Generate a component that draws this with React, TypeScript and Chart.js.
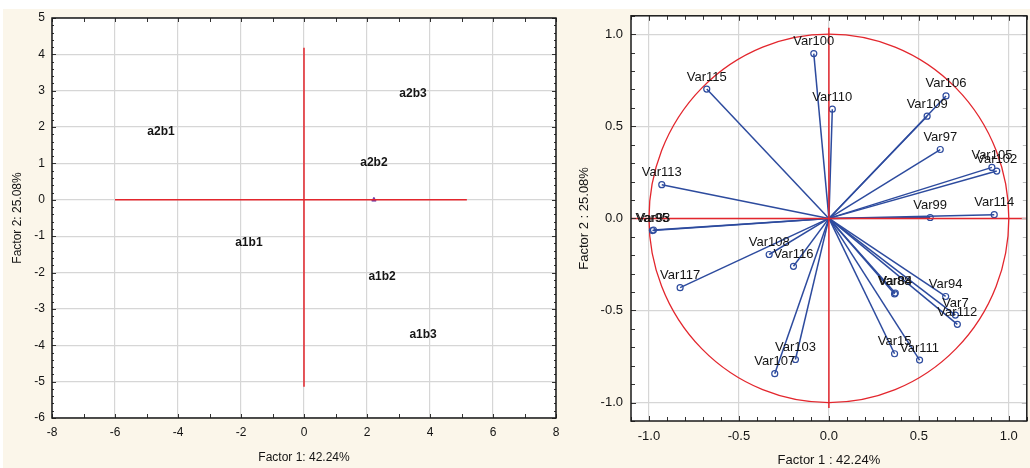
import React, { useEffect, useRef } from 'react';
import { Chart, registerables } from 'chart.js';

Chart.register(...registerables);

// ---------- Left panel data (case coordinates) ----------
const caseLabels = ['a2b1', 'a2b3', 'a2b2', 'a1b1', 'a1b2', 'a1b3'];
const caseX = [-4.54, 3.46, 2.22, -1.75, 2.48, 3.78];
const caseY = [1.87, 2.91, 1.02, -1.18, -2.12, -3.71];
const leftXTicks = [-8, -6, -4, -2, 0, 2, 4, 6, 8];
const leftYTicks = [-6, -5, -4, -3, -2, -1, 0, 1, 2, 3, 4, 5];
const leftRedH = [-6, 5.17];
const leftRedV = [4.18, -5.14];
const leftMarker = [2.22, 0];

// ---------- Right panel data (variable loadings) ----------
const varNames = ['Var100', 'Var110', 'Var106', 'Var109', 'Var97', 'Var105', 'Var102', 'Var99', 'Var114', 'Var115', 'Var113', 'Var95', 'Var93', 'Var108', 'Var116', 'Var117', 'Var103', 'Var107', 'Var88', 'Var84', 'Var94', 'Var7', 'Var112', 'Var15', 'Var111'];
const varX = [-0.084, 0.019, 0.651, 0.546, 0.619, 0.906, 0.933, 0.563, 0.919, -0.679, -0.929, -0.981, -0.975, -0.332, -0.197, -0.827, -0.186, -0.301, 0.365, 0.369, 0.649, 0.703, 0.714, 0.365, 0.504];
const varY = [0.895, 0.593, 0.665, 0.555, 0.374, 0.277, 0.257, 0.005, 0.02, 0.702, 0.183, -0.066, -0.063, -0.196, -0.26, -0.376, -0.766, -0.843, -0.41, -0.405, -0.424, -0.525, -0.575, -0.735, -0.769];
const rightTicks = [-1, -0.5, 0, 0.5, 1];
const rightRedH = [-1.1, 1.1];
const rightRedV = [1.035, -1.03];
const circleRadius = 1;

const FONT = "'Liberation Sans', Arial, Helvetica, sans-serif";
const RED = '#e3262d';
const BLUE = '#2d4b9e';
const GRID = '#d6d6d6';
const TXT = '#141414';
const CREAM = '#fbf6ea';

const whiteArea = {
  id: 'whiteArea',
  beforeDraw(chart: any) {
    const { ctx, chartArea: a } = chart;
    ctx.save();
    ctx.fillStyle = '#ffffff';
    ctx.fillRect(a.left, a.top, a.right - a.left, a.bottom - a.top);
    ctx.restore();
  },
};

function frameTicks(cfg: any) {
  return {
    id: 'frameTicks',
    afterDatasetsDraw(chart: any) {
      const { ctx, chartArea: a, scales } = chart;
      const sx = scales.x, sy = scales.y;
      ctx.save();
      ctx.lineWidth = 1;
      ctx.strokeStyle = '#333';
      ctx.beginPath();
      const nx = Math.round((cfg.xMax - cfg.xMin) / cfg.xStep);
      for (let i = 0; i <= nx; i++) {
        const v = cfg.xMin + i * cfg.xStep;
        const px = Math.round(sx.getPixelForValue(v)) + 0.5;
        const major = Math.abs(v / cfg.xMajor - Math.round(v / cfg.xMajor)) < 1e-6;
        const len = major ? cfg.majorLen : cfg.minorLen;
        ctx.moveTo(px, a.top); ctx.lineTo(px, a.top + len);
        ctx.moveTo(px, a.bottom); ctx.lineTo(px, a.bottom - len);
      }
      const ny = Math.round((cfg.yMax - cfg.yMin) / cfg.yStep);
      for (let i = 0; i <= ny; i++) {
        const v = cfg.yMin + i * cfg.yStep;
        const py = Math.round(sy.getPixelForValue(v)) + 0.5;
        const major = Math.abs(v / cfg.yMajor - Math.round(v / cfg.yMajor)) < 1e-6;
        const len = major ? cfg.majorLen : cfg.minorLen;
        ctx.moveTo(a.left, py); ctx.lineTo(a.left + len, py);
      }
      ctx.stroke();
      ctx.strokeStyle = cfg.rightColor || '#333';
      ctx.beginPath();
      for (let i = 0; i <= ny; i++) {
        const v = cfg.yMin + i * cfg.yStep;
        const py = Math.round(sy.getPixelForValue(v)) + 0.5;
        const major = Math.abs(v / cfg.yMajor - Math.round(v / cfg.yMajor)) < 1e-6;
        const len = major ? cfg.majorLen : cfg.minorLen;
        ctx.moveTo(a.right, py); ctx.lineTo(a.right - len, py);
      }
      ctx.stroke();
      ctx.strokeStyle = '#1a1a1a';
      ctx.lineWidth = 1.5;
      ctx.strokeRect(a.left, a.top, a.right - a.left, a.bottom - a.top);
      ctx.restore();
    },
  };
}

function pointLabels(cfg: any) {
  return {
    id: 'pointLabels',
    afterDatasetsDraw(chart: any) {
      const { ctx } = chart;
      ctx.save();
      ctx.font = cfg.font;
      ctx.fillStyle = TXT;
      ctx.textAlign = 'center';
      ctx.textBaseline = 'middle';
      cfg.items.forEach((it: any) => {
        const el = chart.getDatasetMeta(it.ds).data[it.idx];
        if (el) ctx.fillText(it.text, el.x, el.y + cfg.dy);
      });
      ctx.restore();
    },
  };
}

const circlePlugin = {
  id: 'circle',
  beforeDatasetsDraw(chart: any) {
    const { ctx, scales } = chart;
    const cx = scales.x.getPixelForValue(0);
    const cy = scales.y.getPixelForValue(0);
    const rx = scales.x.getPixelForValue(circleRadius) - cx;
    const ry = cy - scales.y.getPixelForValue(circleRadius);
    ctx.save();
    ctx.strokeStyle = RED;
    ctx.lineWidth = 1.3;
    ctx.beginPath();
    ctx.ellipse(cx, cy, rx, ry, 0, 0, Math.PI * 2);
    ctx.stroke();
    ctx.restore();
  },
};

function axis(opts: any) {
  return {
    type: 'linear',
    min: opts.min,
    max: opts.max,
    afterBuildTicks: (s: any) => { s.ticks = opts.ticks.map((v: number) => ({ value: v })); },
    afterFit: (s: any) => { if (opts.width !== undefined) s.width = opts.width; if (opts.height !== undefined) s.height = opts.height; },
    grid: { color: GRID, lineWidth: 1.2, drawTicks: false },
    border: { display: false },
    ticks: {
      padding: opts.tickPad,
      color: TXT,
      font: { family: FONT, size: opts.fontSize },
      callback: opts.fmt,
    },
    title: {
      display: true,
      text: opts.title,
      color: TXT,
      font: { family: FONT, size: opts.fontSize },
      padding: opts.titlePad,
    },
  };
}

export default function App() {
  const leftRef = useRef<HTMLCanvasElement>(null);
  const rightRef = useRef<HTMLCanvasElement>(null);

  useEffect(() => {
    const left = new Chart(leftRef.current as any, {
      type: 'scatter',
      data: {
        datasets: [
          { data: [{ x: leftRedH[0], y: 0 }, { x: leftRedH[1], y: 0 }], showLine: true, borderColor: RED, borderWidth: 1.5, pointRadius: 0 },
          { data: [{ x: 0, y: leftRedV[0] }, { x: 0, y: leftRedV[1] }], showLine: true, borderColor: RED, borderWidth: 1.5, pointRadius: 0 },
          { data: caseX.map((x, i) => ({ x, y: caseY[i] })), pointRadius: 0 },
          { data: [{ x: leftMarker[0], y: leftMarker[1] }], pointStyle: 'triangle', pointRadius: 2.5, backgroundColor: '#6a3aa8', borderColor: '#6a3aa8' },
        ],
      } as any,
      options: {
        responsive: false,
        animation: false,
        layout: { padding: { left: 0, top: 18, right: 12, bottom: 0 } },
        plugins: { legend: { display: false }, tooltip: { enabled: false } },
        scales: {
          x: axis({ min: -8, max: 8, ticks: leftXTicks, height: 50, tickPad: 7, fontSize: 12, fmt: (v: any) => String(v), title: 'Factor 1: 42.24%', titlePad: { top: 0, bottom: 2.8 } }),
          y: axis({ min: -6, max: 5, ticks: leftYTicks, width: 52, tickPad: 7, fontSize: 12, fmt: (v: any) => String(v), title: 'Factor 2: 25.08%', titlePad: { top: 10.8, bottom: 0 } }),
        },
      } as any,
      plugins: [
        whiteArea,
        frameTicks({ xMin: -8, xMax: 8, xStep: 1, xMajor: 1, yMin: -6, yMax: 5, yStep: 0.2, yMajor: 1, majorLen: 4, minorLen: 2 }),
        pointLabels({ font: `bold 12px ${FONT}`, dy: 0, items: caseLabels.map((t, i) => ({ ds: 2, idx: i, text: t })) }),
      ],
    });

    const right = new Chart(rightRef.current as any, {
      type: 'scatter',
      data: {
        datasets: [
          { data: [{ x: rightRedH[0], y: 0 }, { x: rightRedH[1], y: 0 }], showLine: true, borderColor: RED, borderWidth: 1.5, pointRadius: 0 },
          { data: [{ x: 0, y: rightRedV[0] }, { x: 0, y: rightRedV[1] }], showLine: true, borderColor: RED, borderWidth: 1.5, pointRadius: 0 },
          ...varNames.map((n, i) => ({
            label: n,
            data: [{ x: 0, y: 0 }, { x: varX[i], y: varY[i] }],
            showLine: true,
            borderColor: BLUE,
            borderWidth: 1.5,
            pointRadius: [0, 3],
            pointBorderColor: BLUE,
            pointBackgroundColor: 'rgba(0,0,0,0)',
            pointBorderWidth: 1.2,
          })),
        ],
      } as any,
      options: {
        responsive: false,
        animation: false,
        layout: { padding: { left: 0, top: 13, right: 0, bottom: 0 } },
        plugins: { legend: { display: false }, tooltip: { enabled: false } },
        scales: {
          x: axis({ min: -1.1, max: 1.1, ticks: rightTicks, height: 47, tickPad: 8, fontSize: 13, fmt: (v: any) => Number(v).toFixed(1), title: 'Factor 1 : 42.24%', titlePad: { top: 0, bottom: 0.2 } }),
          y: axis({ min: -1.1, max: 1.1, ticks: rightTicks, width: 63, tickPad: 8, fontSize: 13, fmt: (v: any) => Number(v).toFixed(1), title: 'Factor 2 : 25.08%', titlePad: { top: 8.2, bottom: 0 } }),
        },
      } as any,
      plugins: [
        whiteArea,
        circlePlugin,
        frameTicks({ xMin: -1.1, xMax: 1.1, xStep: 0.1, xMajor: 0.5, yMin: -1.1, yMax: 1.1, yStep: 0.1, yMajor: 0.5, majorLen: 5, minorLen: 4, rightColor: '#bdbdbd' }),
        pointLabels({ font: `13px ${FONT}`, dy: -12, items: varNames.map((t, i) => ({ ds: i + 2, idx: 1, text: t })) }),
      ],
    });

    return () => { left.destroy(); right.destroy(); };
  }, []);

  return (
    <div style={{ position: 'fixed', left: 0, top: 0, width: 1030, height: 468, overflow: 'hidden', background: '#ffffff' }}>
      <div style={{ position: 'absolute', left: 3, top: 9, right: 0, bottom: 0, background: CREAM }} />
      <canvas ref={leftRef} width={568} height={468} style={{ position: 'absolute', left: 0, top: 0, width: 568, height: 468 }} />
      <canvas ref={rightRef} width={464} height={468} style={{ position: 'absolute', left: 568, top: 0, width: 464, height: 468 }} />
    </div>
  );
}
